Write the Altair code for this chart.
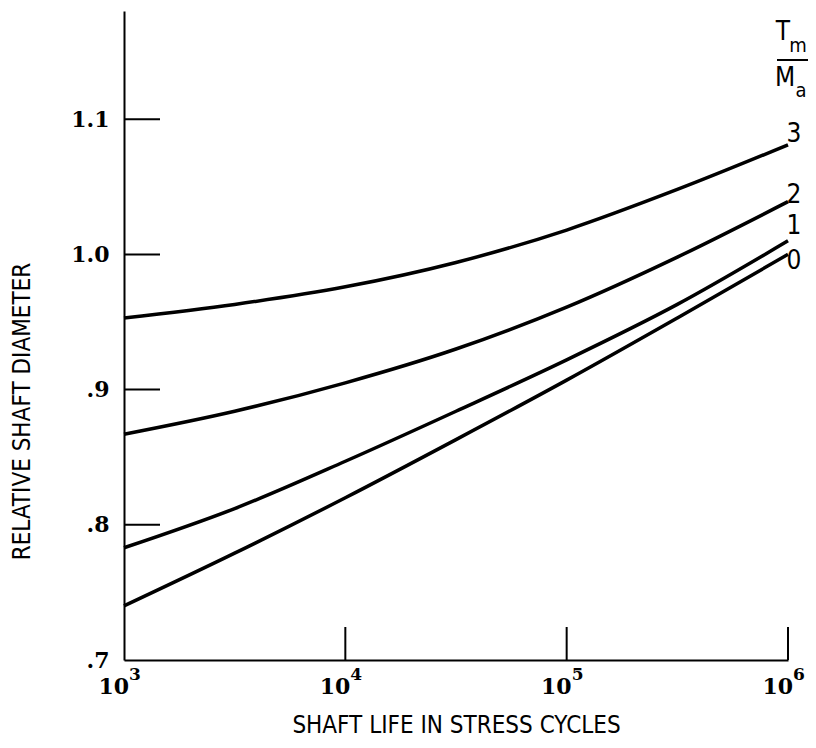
import altair as alt
import pandas as pd

# ---- data ----
cycles = [1e3, 10**3.5, 1e4, 10**4.5, 1e5, 10**5.5, 1e6]
ratio_0 = [0.740, 0.779, 0.820, 0.863, 0.907, 0.953, 1.000]
ratio_1 = [0.783, 0.812, 0.847, 0.884, 0.922, 0.963, 1.010]
ratio_2 = [0.867, 0.884, 0.905, 0.930, 0.961, 0.998, 1.039]
ratio_3 = [0.953, 0.963, 0.976, 0.994, 1.018, 1.048, 1.081]
ratio_names = ["0", "1", "2", "3"]
label_values = [0.995, 1.021, 1.044, 1.089]

y_label_values = [0.7, 0.8, 0.9, 1.0, 1.1]
y_tick_values = [0.8, 0.9, 1.0, 1.1]
x_tick_values = [1e4, 1e5, 1e6]
x_label_values = [1e3, 1e4, 1e5, 1e6]
x_label_exponents = ["3", "4", "5", "6"]

rows = []
for name, vals in zip(ratio_names, [ratio_0, ratio_1, ratio_2, ratio_3]):
    for c, v in zip(cycles, vals):
        rows.append({"cycles": c, "diameter": v, "ratio": name})
df = pd.DataFrame(rows)
labels_df = pd.DataFrame({"cycles": [1e6] * 4, "diameter": label_values, "ratio": ratio_names})
yt_df = pd.DataFrame({"diameter": y_tick_values})
xt_df = pd.DataFrame({"cycles": x_tick_values})
xl_df = pd.DataFrame({"cycles": x_label_values, "exp": x_label_exponents, "base": ["10"] * 4})

W, H = 664, 649
SERIF = "DejaVu Serif"
NARROW = "DejaVu Sans Condensed, Liberation Sans Narrow, sans-serif"

xscale = alt.Scale(type="log", domain=[1e3, 1e6], nice=False)
yscale = alt.Scale(domain=[0.7, 1.18], zero=False, nice=False)

x_axis = alt.Axis(labels=False, ticks=False, tickSize=0, grid=False,
                  domainColor="black", domainWidth=2,
                  title="SHAFT LIFE IN STRESS CYCLES", titleFont=NARROW,
                  titleFontSize=24, titleFontWeight="normal", titleColor="black",
                  titleX=332, titleY=65, titleBaseline="middle", titleAlign="center")
y_axis = alt.Axis(values=y_label_values, ticks=False, tickSize=0, grid=False,
                  labelExpr="datum.value >= 1 ? format(datum.value, '.1f') : replace(format(datum.value, '.1f'), '0.', '.')",
                  labelFont=SERIF, labelFontSize=22, labelFontWeight="bold",
                  labelColor="black", labelPadding=15,
                  domainColor="black", domainWidth=2,
                  title="RELATIVE SHAFT DIAMETER", titleFont=NARROW,
                  titleFontSize=24, titleFontWeight="normal", titleColor="black",
                  titleAngle=270, titleX=-102, titleY=400,
                  titleBaseline="middle", titleAlign="center")

X = alt.X("cycles:Q", scale=xscale, axis=x_axis)
Y = alt.Y("diameter:Q", scale=yscale, axis=y_axis)

lines = alt.Chart(df).mark_line(color="black", strokeWidth=3.5, interpolate="monotone").encode(
    x=X, y=Y, detail="ratio:N",
)
y_ticks = alt.Chart(yt_df).mark_rule(color="black", strokeWidth=2).encode(
    y=Y, x=alt.value(0), x2=alt.value(36),
)
x_ticks = alt.Chart(xt_df).mark_rule(color="black", strokeWidth=2).encode(
    x=X, y=alt.value(H), y2=alt.value(H - 33),
)
x_base = alt.Chart(xl_df).mark_text(font=SERIF, fontSize=22, fontWeight="bold", align="right",
                                    baseline="middle", dx=5, color="black").encode(
    x=X, y=alt.value(H + 27), text="base:N",
)
x_exp = alt.Chart(xl_df).mark_text(font=SERIF, fontSize=17, fontWeight="bold", align="left",
                                   baseline="middle", dx=5, color="black").encode(
    x=X, y=alt.value(H + 15), text="exp:N",
)
curve_labels = alt.Chart(labels_df).mark_text(font=NARROW, fontSize=26, align="center",
                                              baseline="middle", dx=6, color="black").encode(
    x=X, y=Y, text="ratio:N",
)

hdr = pd.DataFrame({"t": [""]})
t_main = alt.Chart(hdr).mark_text(text="T", font=NARROW, fontSize=26, baseline="middle",
                                  align="center", color="black").encode(x=alt.value(659), y=alt.value(21))
t_sub = alt.Chart(hdr).mark_text(text="m", font=NARROW, fontSize=20, baseline="middle",
                                 align="center", color="black").encode(x=alt.value(674), y=alt.value(35))
bar = alt.Chart(hdr).mark_rule(color="black", strokeWidth=2).encode(
    x=alt.value(653), x2=alt.value(684), y=alt.value(49))
m_main = alt.Chart(hdr).mark_text(text="M", font=NARROW, fontSize=26, baseline="middle",
                                  align="center", color="black").encode(x=alt.value(661), y=alt.value(67))
m_sub = alt.Chart(hdr).mark_text(text="a", font=NARROW, fontSize=20, baseline="middle",
                                 align="center", color="black").encode(x=alt.value(677), y=alt.value(80))

chart = alt.layer(
    lines, y_ticks, x_ticks, x_base, x_exp, curve_labels, t_main, t_sub, bar, m_main, m_sub
).properties(
    width=W, height=H,
    autosize=alt.AutoSizeParams(type="none"),
    padding={"left": 116, "top": 3, "right": 20, "bottom": 80},
).configure(background="white").configure_view(stroke=None)

chart.save("out.html", embed_options={"renderer": "svg", "actions": False})
